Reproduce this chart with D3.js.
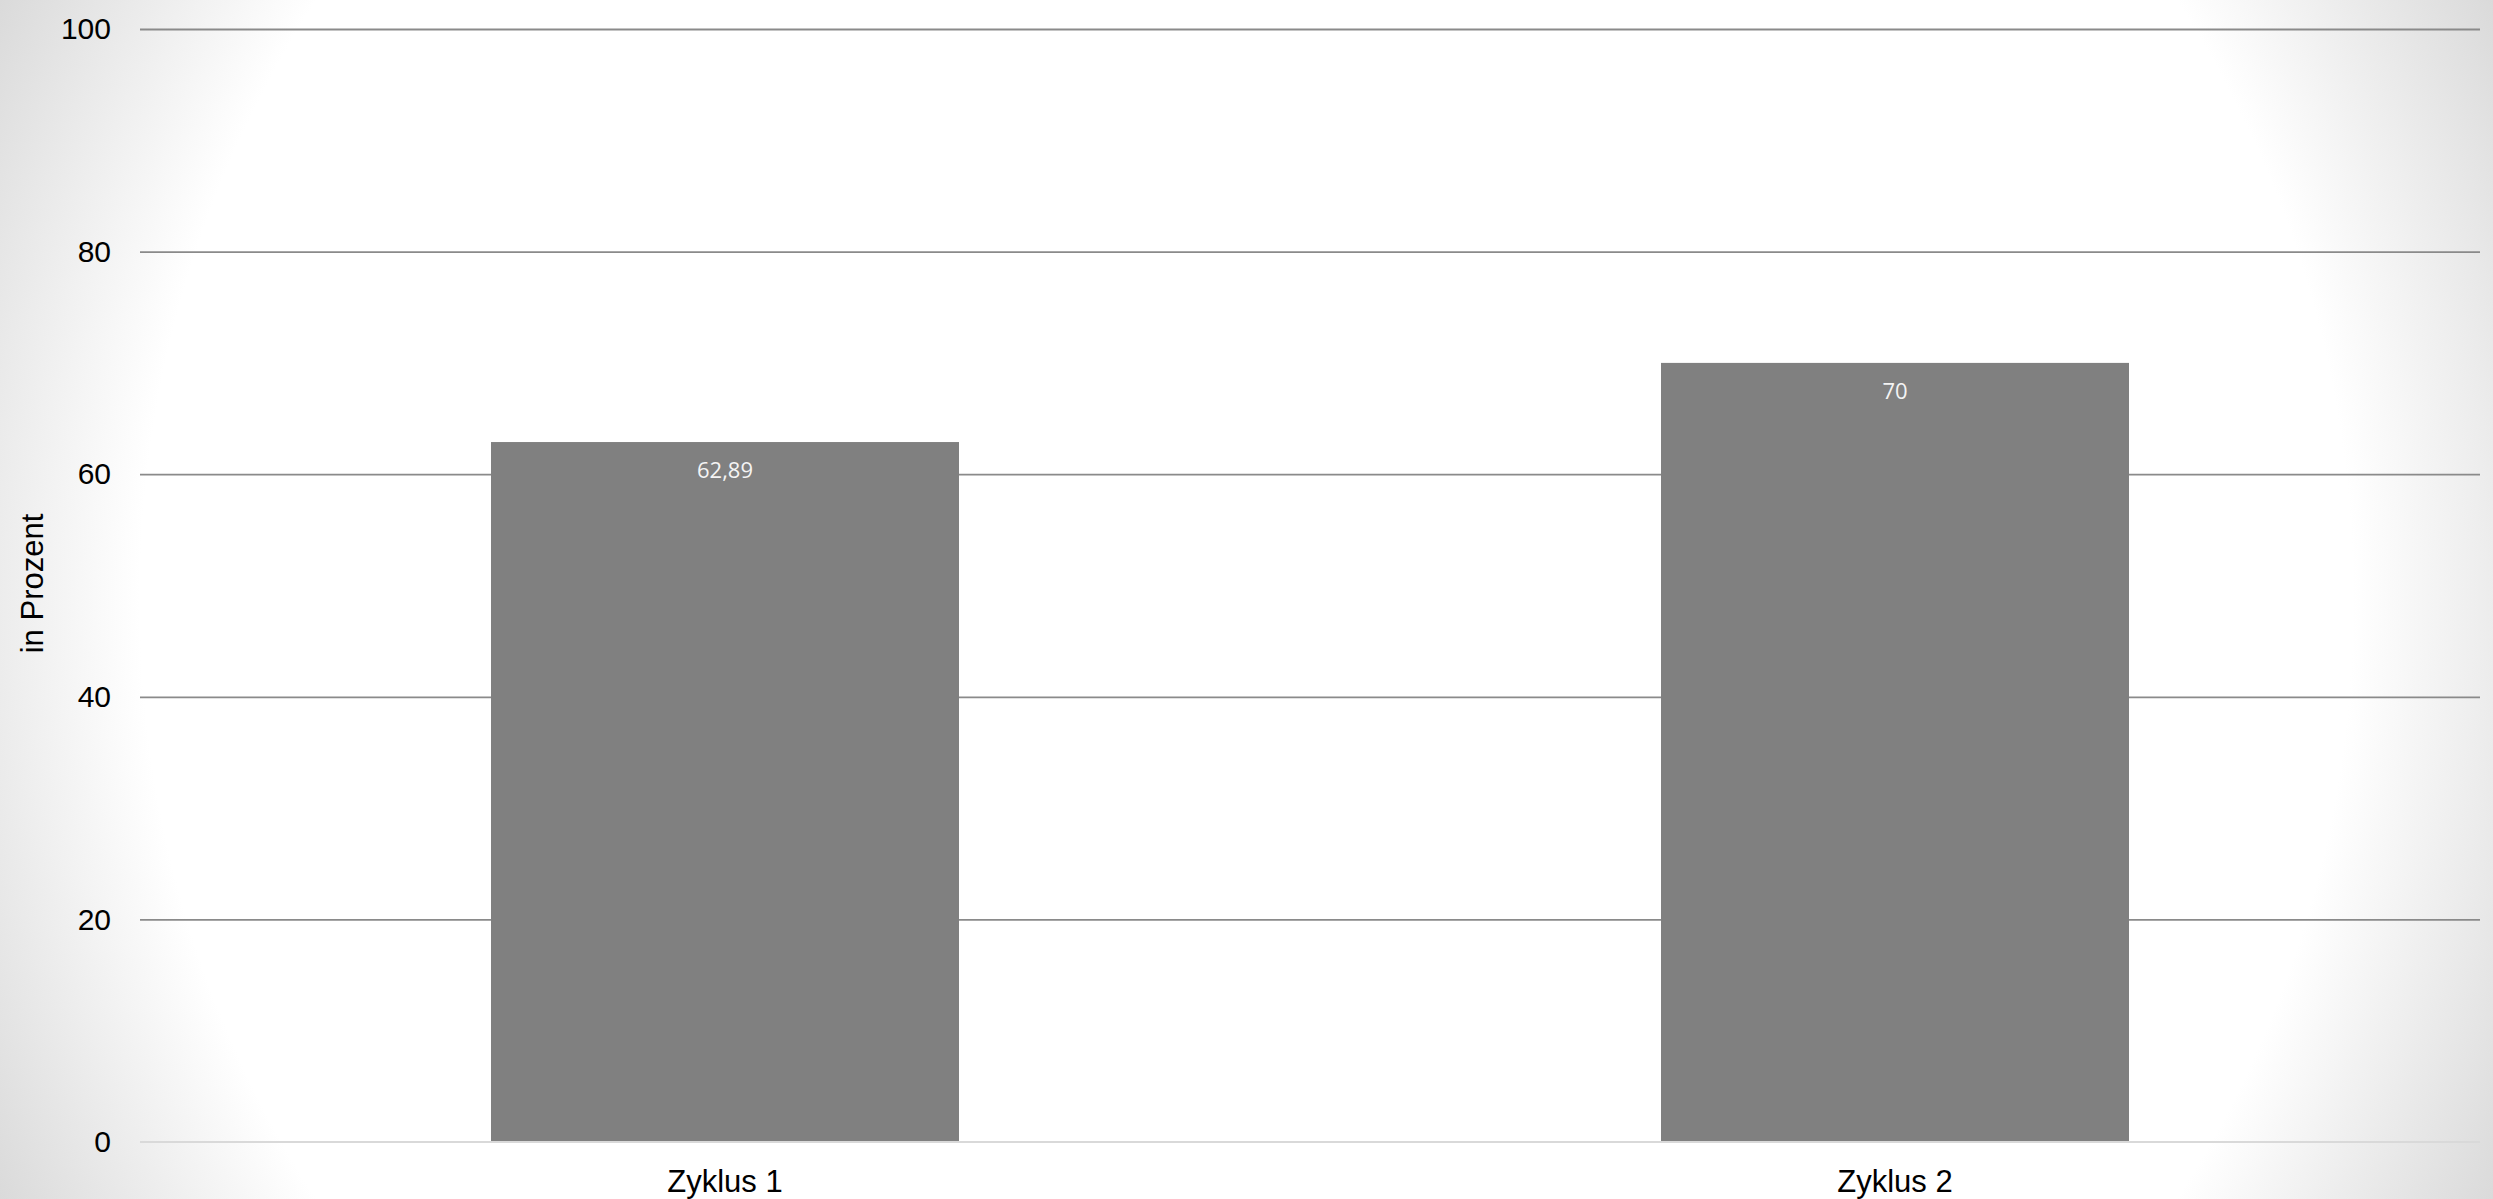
<!DOCTYPE html>
<html>
<head>
<meta charset="utf-8">
<script src="https://cdn.jsdelivr.net/npm/d3@7"></script>
<style>
  html, body { margin: 0; padding: 0; overflow: hidden; background: #fff; }
  svg { display: block; }
</style>
</head>
<body>
<svg id="chart" width="2493" height="1199"></svg>
<script>
// Anteil je Zyklus (in Prozent)
const categories = ["Zyklus 1", "Zyklus 2"];
const values = [62.89, 70];
const valueLabels = ["62,89", "70"];
const yTicks = [0, 20, 40, 60, 80, 100];
const yAxisTitle = "in Prozent";

const W = 2493, H = 1199;
const plot = { left: 140, right: 2480, top: 29, bottom: 1142 };

const svg = d3.select("#chart");

// soft radial background, white in the middle, grey toward the edges
const defs = svg.append("defs");
const grad = defs.append("radialGradient")
  .attr("id", "bg")
  .attr("gradientUnits", "userSpaceOnUse")
  .attr("cx", W / 2).attr("cy", H / 2)
  .attr("r", Math.hypot(W / 2, H / 2));
grad.append("stop").attr("offset", 0).attr("stop-color", "#ffffff");
grad.append("stop").attr("offset", 0.8).attr("stop-color", "#ffffff");
grad.append("stop").attr("offset", 1).attr("stop-color", "#dadada");
svg.append("rect").attr("width", W).attr("height", H).attr("fill", "url(#bg)");

const x = d3.scaleBand()
  .domain(categories)
  .range([plot.left, plot.right])
  .padding(0);

const y = d3.scaleLinear()
  .domain([0, 100])
  .range([plot.bottom, plot.top]);

const barWidth = x.bandwidth() * 0.4;

// y axis with full-width gridlines
const yAxis = svg.append("g")
  .attr("transform", `translate(${plot.left},0)`)
  .call(d3.axisLeft(y)
    .tickValues(yTicks)
    .tickSize(-(plot.right - plot.left))
    .tickPadding(29)
    .tickFormat(d3.format("d")));
yAxis.select(".domain").remove();
yAxis.selectAll(".tick line")
  .attr("stroke", d => d === 0 ? "none" : "#8a8a8a")
  .attr("stroke-width", 1.8);
yAxis.selectAll(".tick text")
  .attr("fill", "#000")
  .style("font-family", "'Liberation Sans', Arial, sans-serif")
  .style("font-size", "30px");

// bars
svg.append("g").selectAll("rect")
  .data(categories)
  .join("rect")
  .attr("x", (d) => x(d) + x.bandwidth() / 2 - barWidth / 2)
  .attr("width", barWidth)
  .attr("y", (d, i) => y(values[i]))
  .attr("height", (d, i) => y(0) - y(values[i]))
  .attr("fill", "#808080");

// value labels inside the bars
svg.append("g").selectAll("text")
  .data(categories)
  .join("text")
  .attr("x", (d) => x(d) + x.bandwidth() / 2)
  .attr("y", (d, i) => y(values[i]) + 36)
  .attr("text-anchor", "middle")
  .attr("fill", "#f4f4f4")
  .style("font-family", "'Open Sans', sans-serif")
  .style("font-size", "22px")
  .text((d, i) => valueLabels[i]);

// baseline
svg.append("line")
  .attr("x1", plot.left).attr("x2", plot.right)
  .attr("y1", y(0)).attr("y2", y(0))
  .attr("stroke", "#d9d9d9")
  .attr("stroke-width", 2);

// category axis
const xAxis = svg.append("g")
  .attr("transform", `translate(0,${plot.bottom})`)
  .call(d3.axisBottom(x).tickSize(0).tickPadding(28));
xAxis.select(".domain").remove();
xAxis.selectAll(".tick text")
  .attr("fill", "#000")
  .style("font-family", "'Liberation Sans', Arial, sans-serif")
  .style("font-size", "31px");

// y axis title
svg.append("text")
  .attr("transform", `translate(43,${(plot.top + plot.bottom) / 2 - 2}) rotate(-90)`)
  .attr("text-anchor", "middle")
  .attr("fill", "#000")
  .style("font-family", "'Liberation Sans', Arial, sans-serif")
  .style("font-size", "31px")
  .text(yAxisTitle);
</script>
</body>
</html>
